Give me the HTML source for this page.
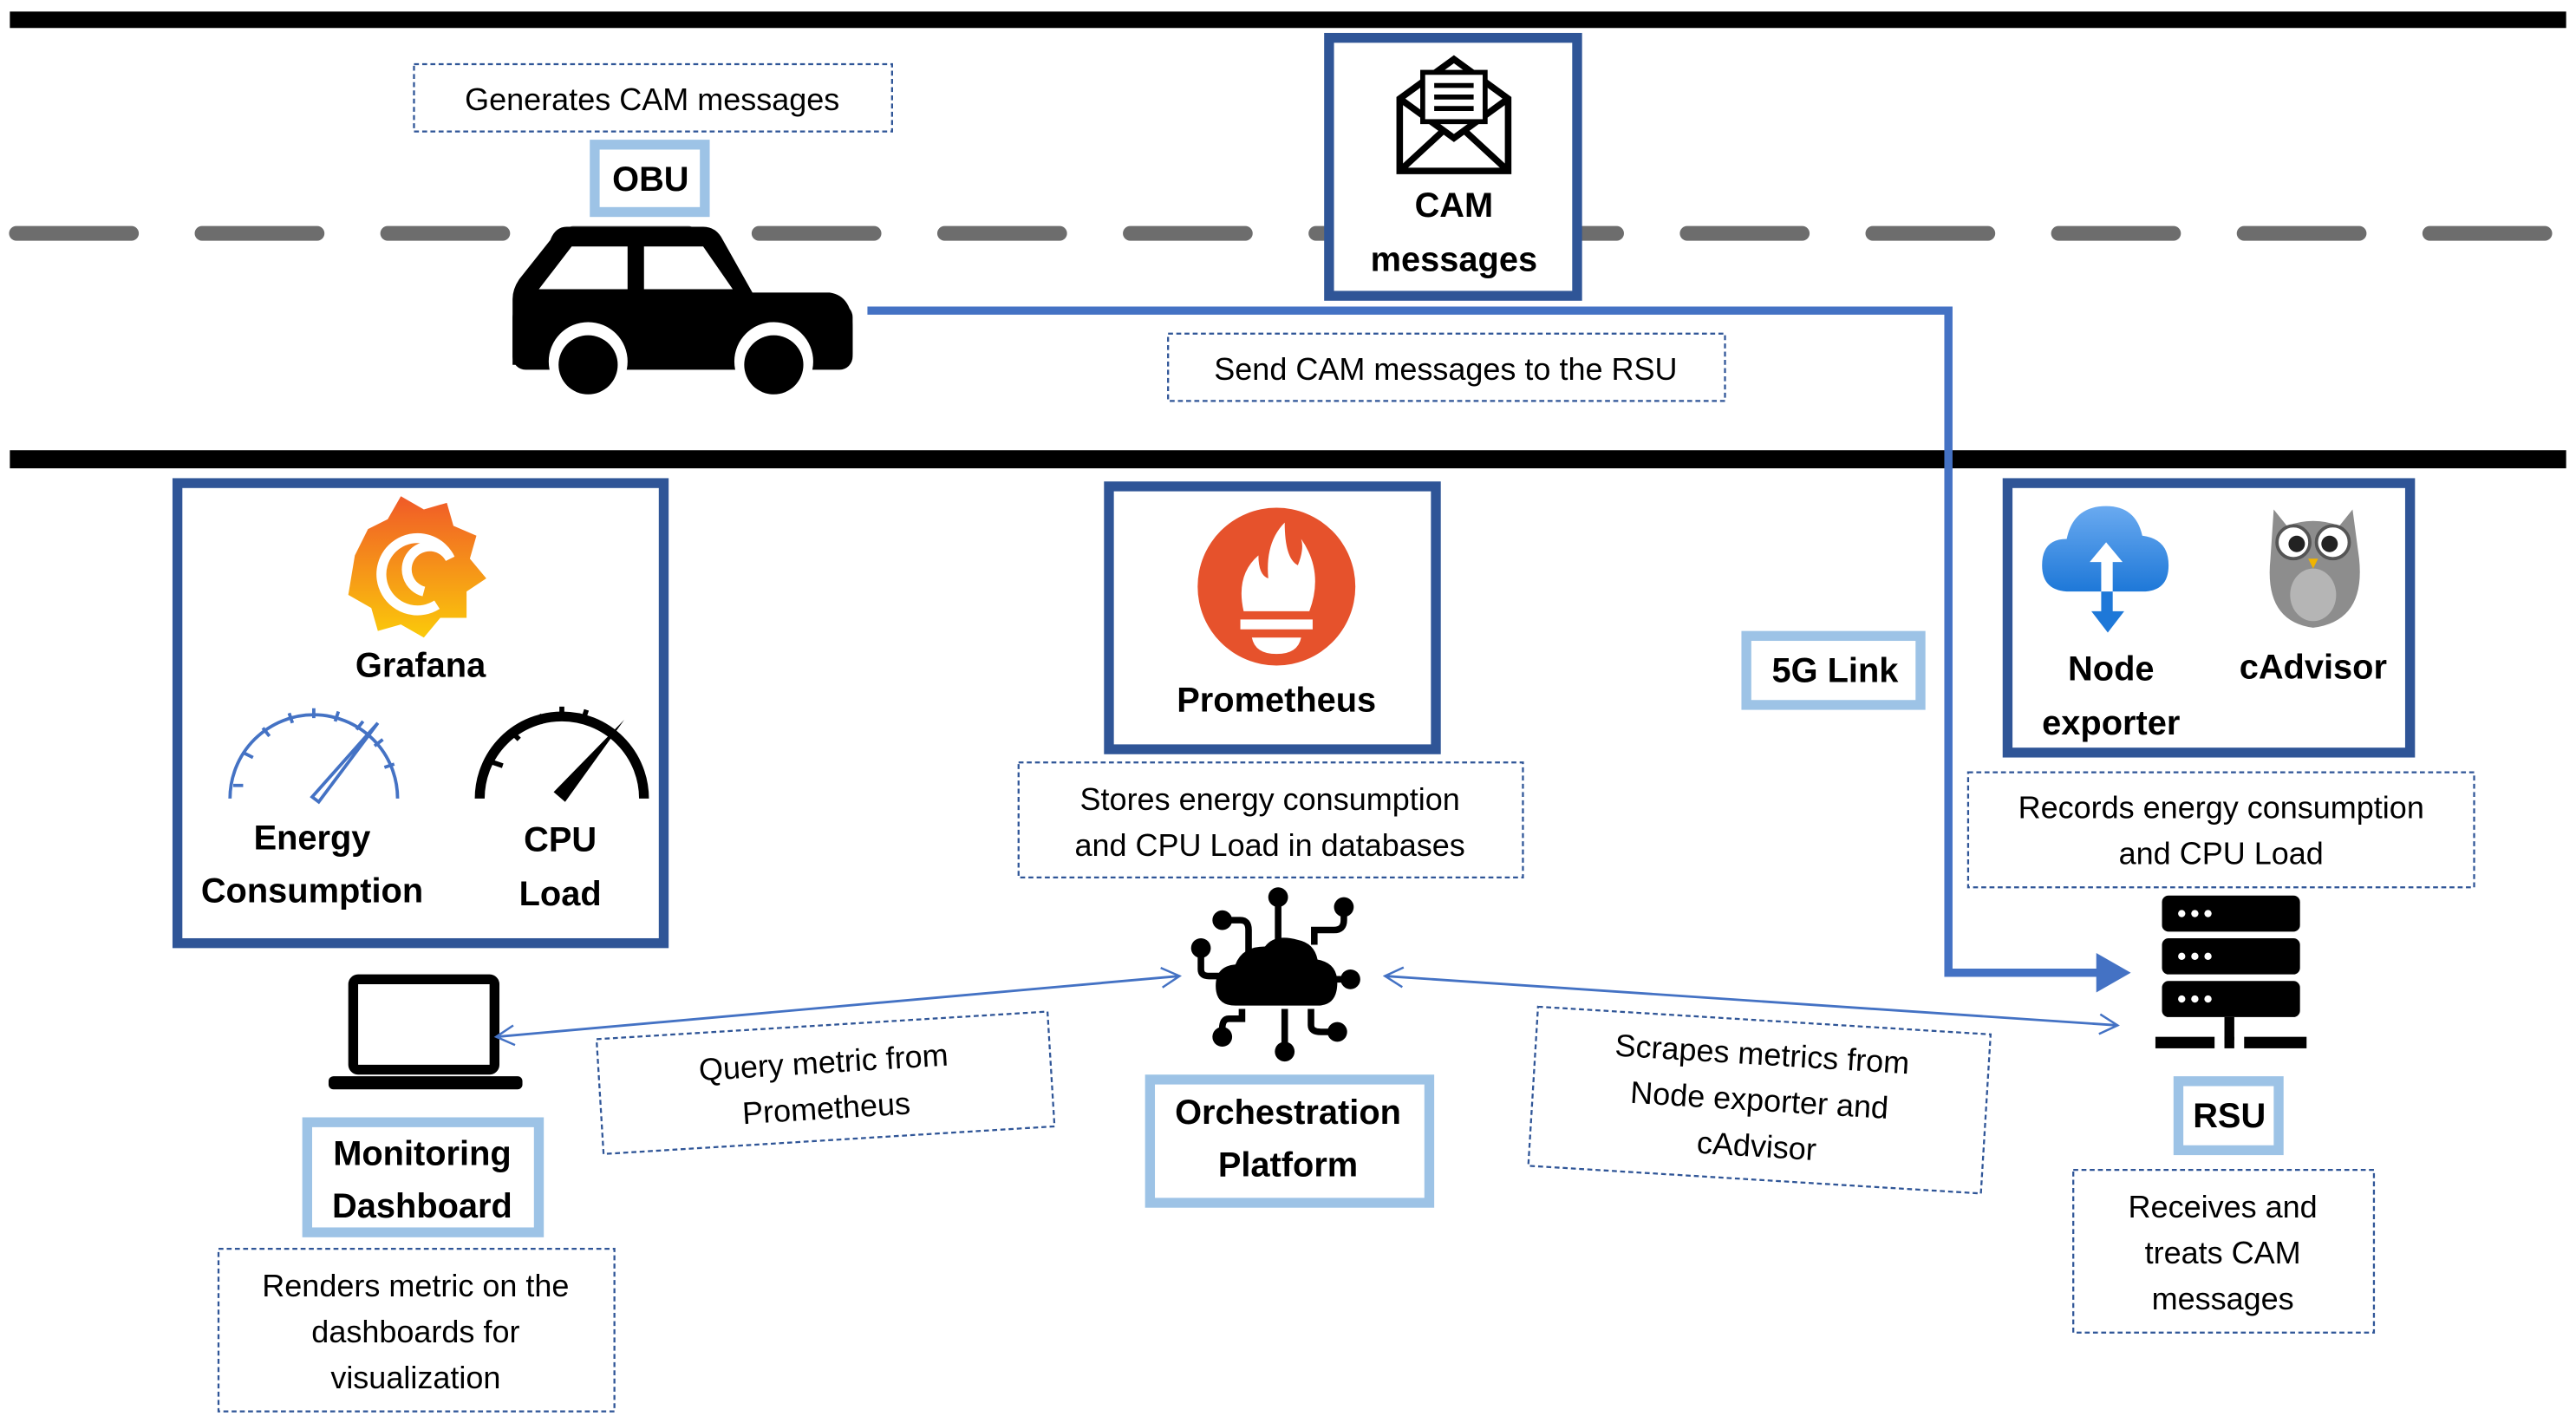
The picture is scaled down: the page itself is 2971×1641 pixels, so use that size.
<!DOCTYPE html>
<html><head><meta charset="utf-8"><style>
html,body{margin:0;padding:0;background:#fff;}
svg{display:block;}
text{font-family:"Liberation Sans",sans-serif;fill:#000;}
.t{font-size:19px;}
.b{font-size:21px;font-weight:bold;}
.dash{fill:#fff;stroke:#2f5597;stroke-width:1.2;stroke-dasharray:3 2;}
.dk{fill:#fff;stroke:#2f5597;stroke-width:6;}
.lt{fill:#fff;stroke:#9dc3e6;stroke-width:6;}
</style></head><body>
<svg width="2971" height="1641" viewBox="0 0 1568 866" xmlns="http://www.w3.org/2000/svg">
<defs>
<marker id="oa" markerWidth="14" markerHeight="14" refX="12" refY="7" orient="auto-start-reverse" markerUnits="userSpaceOnUse">
<path d="M1,1 L12,7 L1,13" fill="none" stroke="#4472c4" stroke-width="1.3"/></marker>
<linearGradient id="gf" x1="0" y1="0" x2="0" y2="1"><stop offset="0" stop-color="#f05a28"/><stop offset="1" stop-color="#fbca0a"/></linearGradient>
<linearGradient id="cl" x1="0" y1="0" x2="0" y2="1"><stop offset="0" stop-color="#6aaaf0"/><stop offset="1" stop-color="#1e78d8"/></linearGradient>
</defs>
<rect x="6" y="7" width="1556" height="10" fill="#000"/>
<rect x="6" y="274" width="1556" height="11" fill="#000"/>
<line x1="10" y1="142" x2="1560" y2="142" stroke="#6d6d6d" stroke-width="9" stroke-linecap="round" stroke-dasharray="70 43"/>
<polyline points="528,189 1186,189 1186,592 1278,592" fill="none" stroke="#4472c4" stroke-width="5"/>
<polygon points="1276,580 1297,592 1276,604" fill="#4472c4"/>
<rect class="dash" x="252" y="39" width="291" height="41"/>
<text class="t" x="397" y="67" text-anchor="middle">Generates CAM messages</text>
<rect class="lt" x="362" y="88" width="67" height="41"/>
<text class="b" x="396" y="116" text-anchor="middle">OBU</text>
<!-- car -->
<g fill="#000">
<path d="M345,138 L428,138 Q436,138 440,146 L458,178 L505,178 Q519,180 519,200 L519,215 Q519,222 510,222 L312,222 L312,182 Q312,176 316,170 L335,146 Q338,138 345,138 Z"/>
<rect x="312" y="185" width="207" height="40" rx="8"/>
</g>
<path d="M348,150 L382,150 L382,176 L328,176 Z M392,150 L428,150 L446,176 L392,176 Z" fill="#fff"/>
<circle cx="358" cy="220" r="24" fill="#fff"/><circle cx="358" cy="222" r="18" fill="#000"/>
<circle cx="471" cy="220" r="24" fill="#fff"/><circle cx="471" cy="222" r="18" fill="#000"/>
<rect class="dk" x="809" y="23" width="151" height="157"/>
<g fill="none" stroke="#000" stroke-width="4">
<path d="M852,60 L852,104 L918,104 L918,60 L885,36 Z"/>
<path d="M852,60 L885,84 L918,60 M852,104 L878,80 M918,104 L892,80"/>
</g>
<rect x="866" y="44" width="38" height="30" fill="#fff" stroke="#000" stroke-width="3"/>
<path d="M873,52 H897 M873,59 H897 M873,66 H897" stroke="#000" stroke-width="3"/>
<text class="b" x="885" y="132" text-anchor="middle">CAM</text>
<text class="b" x="885" y="165" text-anchor="middle">messages</text>
<rect class="dash" x="711" y="203" width="339" height="41"/>
<text class="t" x="880" y="231" text-anchor="middle">Send CAM messages to the RSU</text>
<rect class="dk" x="108" y="294" width="296" height="280"/>
<g transform="translate(254,346)">
<path d="M-38,-8 L-30,-24 L-18,-30 L-10,-44 L4,-36 L18,-40 L22,-26 L36,-20 L32,-6 L42,6 L30,14 L30,30 L14,30 L4,42 L-10,34 L-24,38 L-28,24 L-42,16 Z" fill="url(#gf)"/>
<path d="M12,22 A22,22 0 1 1 20,-6 A14,14 0 1 0 4,14" fill="none" stroke="#fff" stroke-width="6"/>
</g>
<text class="b" x="256" y="412" text-anchor="middle">Grafana</text>
<g fill="none" stroke="#4472c4" stroke-width="2">
<path d="M140,486 A51,51 0 0 1 242,486"/>
<path d="M142,478 l6,0 M148,458 l6,3 M160,443 l4,5 M176,434 l2,6 M191,431 l0,6 M206,433 l-2,6 M221,439 l-4,5 M233,450 l-5,4 M240,465 l-6,2"/>
<path d="M190,485 L230,440 L194,488 Z"/>
</g>
<g fill="none" stroke="#000">
<path d="M292,486 A50,50 0 0 1 392,486" stroke-width="6"/>
<path d="M300,464 l6,2 M312,446 l4,4 M328,435 l3,5 M342,430 l0,6 M357,432 l-2,6" stroke-width="3"/>
</g>
<path d="M337,482 L380,438 L344,488 Z" fill="#000"/>
<text class="b" x="190" y="517" text-anchor="middle">Energy</text>
<text class="b" x="190" y="549" text-anchor="middle">Consumption</text>
<text class="b" x="341" y="518" text-anchor="middle">CPU</text>
<text class="b" x="341" y="551" text-anchor="middle">Load</text>
<rect x="215" y="596" width="86" height="55" rx="3" fill="none" stroke="#000" stroke-width="6"/>
<rect x="200" y="655" width="118" height="8" rx="3" fill="#000"/>
<rect class="lt" x="187" y="683" width="141" height="67"/>
<text class="b" x="257" y="709" text-anchor="middle">Monitoring</text>
<text class="b" x="257" y="741" text-anchor="middle">Dashboard</text>
<rect class="dash" x="133" y="760" width="241" height="99"/>
<text class="t" x="253" y="789" text-anchor="middle">Renders metric on the</text>
<text class="t" x="253" y="817" text-anchor="middle">dashboards for</text>
<text class="t" x="253" y="845" text-anchor="middle">visualization</text>
<line x1="302" y1="631" x2="718" y2="594" stroke="#4472c4" stroke-width="1.5" marker-start="url(#oa)" marker-end="url(#oa)"/>
<g transform="rotate(-3.5 502 659)">
<rect class="dash" x="365" y="624" width="275" height="70"/>
<text class="t" x="502" y="653" text-anchor="middle">Query metric from</text>
<text class="t" x="502" y="681" text-anchor="middle">Prometheus</text>
</g>
<rect class="dk" x="675" y="296" width="199" height="160"/>
<circle cx="777" cy="357" r="48" fill="#e6522c"/>
<path d="M757,372 Q752,350 766,338 Q766,350 772,352 Q770,330 782,318 Q782,340 790,344 Q794,334 792,328 Q806,348 797,372 Z" fill="#fff"/>
<rect x="755" y="377" width="44" height="6" fill="#fff"/>
<path d="M762,388 H792 Q790,398 777,398 Q764,398 762,388 Z" fill="#fff"/>
<text class="b" x="777" y="433" text-anchor="middle">Prometheus</text>
<rect class="dash" x="620" y="464" width="307" height="70"/>
<text class="t" x="773" y="493" text-anchor="middle">Stores energy consumption</text>
<text class="t" x="773" y="521" text-anchor="middle">and CPU Load in databases</text>
<g stroke="#000" stroke-width="4" fill="none">
<path d="M778,546 V575"/><path d="M744,560 H755 Q760,560 760,566 V580"/>
<path d="M818,552 V560 Q818,566 812,566 H800 V575"/>
<path d="M731,577 V590 Q731,594 736,594 H745"/>
<path d="M806,596 H820"/>
<path d="M782,614 V640"/><path d="M756,614 V620 H748 Q744,620 744,626 V630"/>
<path d="M798,614 V624 Q798,628 804,628 H812"/>
</g>
<g fill="#000">
<circle cx="778" cy="546" r="6"/><circle cx="744" cy="560" r="6"/><circle cx="818" cy="552" r="6"/>
<circle cx="731" cy="577" r="6"/><circle cx="822" cy="596" r="6"/><circle cx="782" cy="640" r="6"/>
<circle cx="744" cy="631" r="6"/><circle cx="814" cy="628" r="6"/>
<path d="M752,612 Q740,612 740,600 Q740,588 752,587 Q756,576 770,576 Q776,568 790,572 Q800,574 802,584 Q814,586 814,598 Q814,612 802,612 Z"/>
</g>
<rect class="lt" x="700" y="657" width="170" height="75"/>
<text class="b" x="784" y="684" text-anchor="middle">Orchestration</text>
<text class="b" x="784" y="716" text-anchor="middle">Platform</text>
<line x1="843" y1="594" x2="1289" y2="624" stroke="#4472c4" stroke-width="1.5" marker-start="url(#oa)" marker-end="url(#oa)"/>
<g transform="rotate(3.5 1071 669)">
<rect class="dash" x="933" y="621" width="276" height="97"/>
<text class="t" x="1071" y="648" text-anchor="middle">Scrapes metrics from</text>
<text class="t" x="1071" y="676" text-anchor="middle">Node exporter and</text>
<text class="t" x="1071" y="704" text-anchor="middle">cAdvisor</text>
</g>
<rect class="lt" x="1063" y="387" width="106" height="42"/>
<text class="b" x="1117" y="415" text-anchor="middle">5G Link</text>
<rect class="dk" x="1222" y="294" width="245" height="164"/>
<path d="M1260,360 Q1243,360 1243,344 Q1243,328 1258,328 Q1262,308 1282,308 Q1300,308 1304,326 Q1320,328 1320,344 Q1320,360 1304,360 Z" fill="url(#cl)"/>
<path d="M1282,330 L1272,342 H1279 V372 H1273 L1283,385 L1293,372 H1286 V342 H1292 Z" fill="#fff"/>
<path d="M1279,360 V372 H1273 L1283,385 L1293,372 H1286 V360 Z" fill="#1e78d8"/>
<g>
<path d="M1384,310 L1392,320 Q1408,314 1424,320 L1432,310 L1436,340 Q1440,378 1408,382 Q1378,378 1382,340 Z" fill="#8d8d8d"/>
<circle cx="1396" cy="330" r="10" fill="#fff" stroke="#555" stroke-width="2"/>
<circle cx="1420" cy="330" r="10" fill="#fff" stroke="#555" stroke-width="2"/>
<circle cx="1398" cy="331" r="5" fill="#222"/><circle cx="1418" cy="331" r="5" fill="#222"/>
<ellipse cx="1408" cy="362" rx="14" ry="16" fill="#b5b5b5"/>
<path d="M1405,340 L1411,340 L1408,346 Z" fill="#f0b400"/>
</g>
<text class="b" x="1285" y="414" text-anchor="middle">Node</text>
<text class="b" x="1285" y="447" text-anchor="middle">exporter</text>
<text class="b" x="1408" y="413" text-anchor="middle">cAdvisor</text>
<rect class="dash" x="1198" y="470" width="308" height="70"/>
<text class="t" x="1352" y="498" text-anchor="middle">Records energy consumption</text>
<text class="t" x="1352" y="526" text-anchor="middle">and CPU Load</text>
<g fill="#000">
<rect x="1316" y="545" width="84" height="22" rx="4"/>
<rect x="1316" y="571" width="84" height="22" rx="4"/>
<rect x="1316" y="597" width="84" height="22" rx="4"/>
<rect x="1354" y="619" width="6" height="14"/>
<rect x="1312" y="631" width="36" height="7"/><rect x="1354" y="631" width="6" height="7"/><rect x="1366" y="631" width="38" height="7"/>
</g>
<g fill="#fff">
<circle cx="1328" cy="556" r="2.2"/><circle cx="1336" cy="556" r="2.2"/><circle cx="1344" cy="556" r="2.2"/>
<circle cx="1328" cy="582" r="2.2"/><circle cx="1336" cy="582" r="2.2"/><circle cx="1344" cy="582" r="2.2"/>
<circle cx="1328" cy="608" r="2.2"/><circle cx="1336" cy="608" r="2.2"/><circle cx="1344" cy="608" r="2.2"/>
</g>
<rect class="lt" x="1326" y="658" width="61" height="42"/>
<text class="b" x="1357" y="686" text-anchor="middle">RSU</text>
<rect class="dash" x="1262" y="712" width="183" height="99"/>
<text class="t" x="1353" y="741" text-anchor="middle">Receives and</text>
<text class="t" x="1353" y="769" text-anchor="middle">treats CAM</text>
<text class="t" x="1353" y="797" text-anchor="middle">messages</text>
</svg>
</body></html>
